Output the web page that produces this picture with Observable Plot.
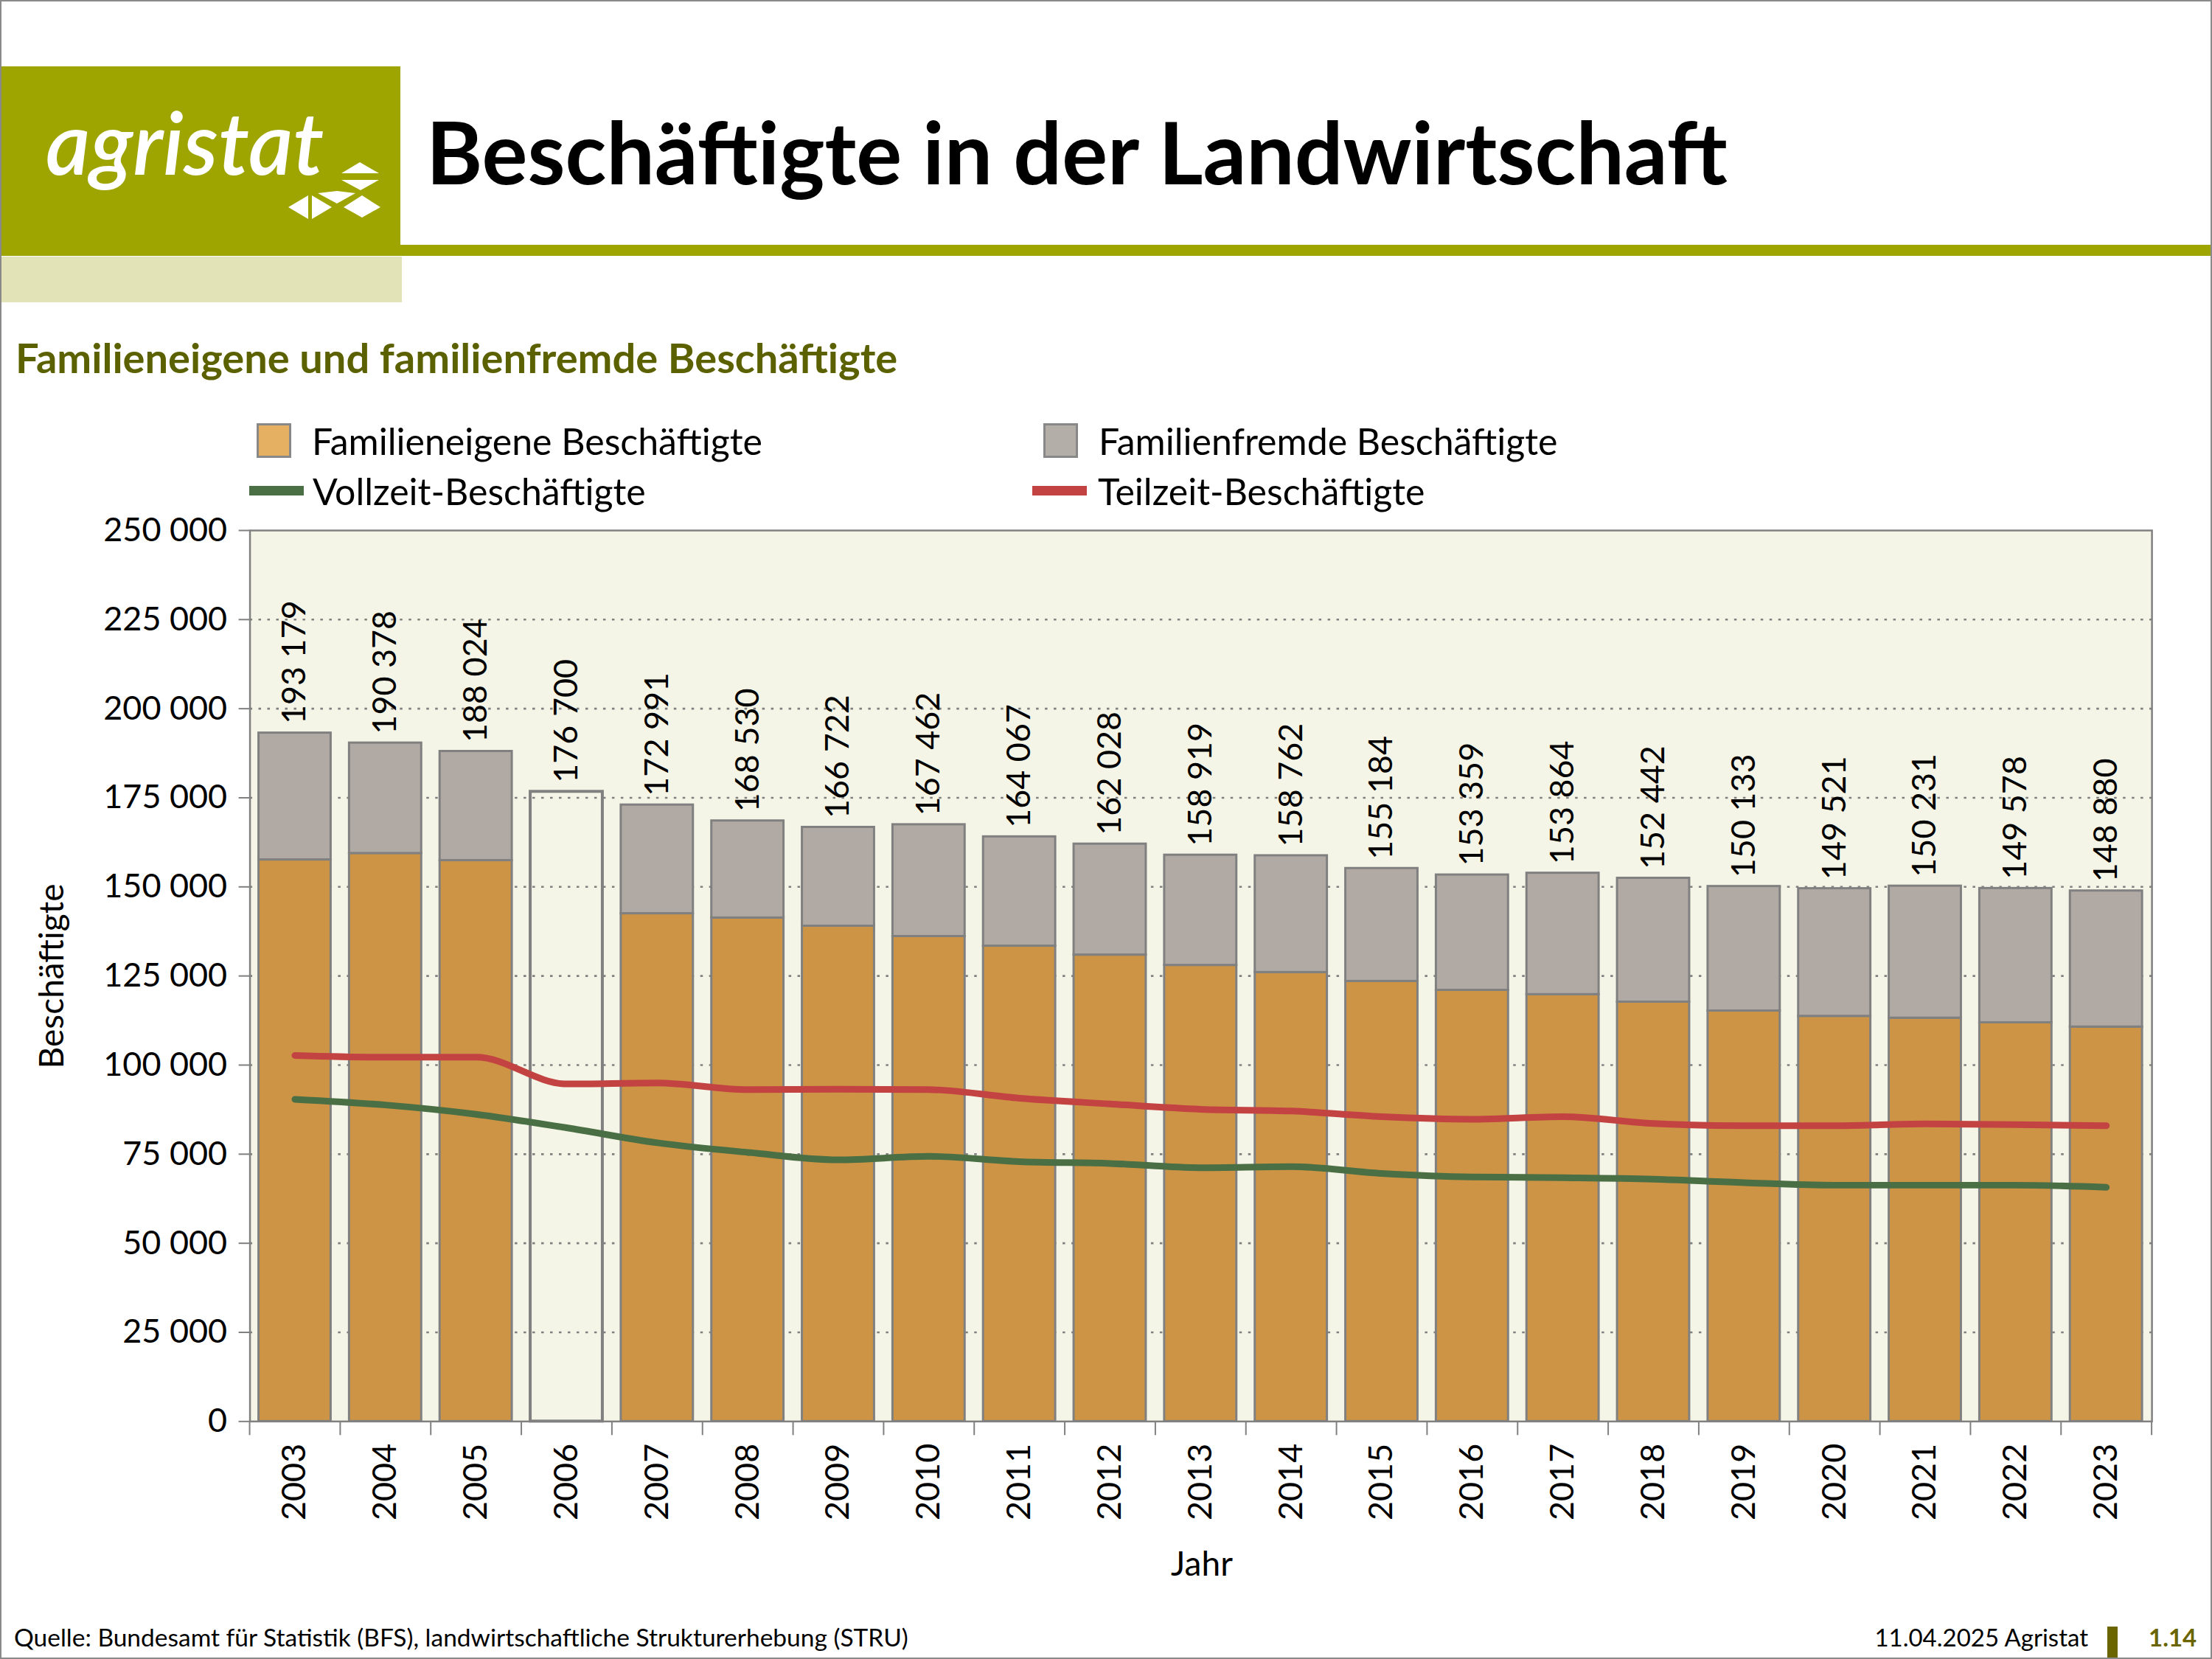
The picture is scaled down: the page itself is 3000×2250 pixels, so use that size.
<!DOCTYPE html>
<html><head><meta charset="utf-8">
<script src="https://cdn.jsdelivr.net/npm/d3@7"></script>
<script src="https://cdn.jsdelivr.net/npm/@observablehq/plot@0.6"></script>
<style>
html,body{margin:0;padding:0;background:#fff;}
#page{position:relative;width:3000px;height:2250px;overflow:hidden;font-family:Lato,"Open Sans",sans-serif;box-sizing:border-box;border:2px solid #8a8a8a;background:#fff;color:#000;}
.abs{position:absolute;white-space:nowrap;line-height:1;}
#logo{position:absolute;left:0;top:88px;width:541px;height:257px;background:#9fa500;}
#band{position:absolute;left:0;top:346px;width:543px;height:62px;background:#e2e4b8;}
#rule{position:absolute;left:541px;top:330px;width:2460px;height:15px;background:#9fa500;}
#logotext{position:absolute;left:60px;top:132px;font-size:117px;font-style:italic;color:#fff;line-height:1;font-family:Lato,sans-serif;font-weight:600;}
#title{left:576px;top:146px;font-size:116px;font-weight:700;}
#subtitle{left:19px;top:455px;font-size:56px;font-weight:700;color:#5c6100;}
.leg{position:absolute;display:flex;align-items:center;height:47px;font-size:50px;white-space:nowrap;}
.sw{width:41px;height:41px;border:3px solid #888;margin-right:28px;}
.ln{width:74px;height:13px;margin-right:12px;}
#chart{position:absolute;left:0;top:690px;}
#ylab{left:67px;top:1322px;font-size:46px;transform:translate(-50%,-50%) rotate(-90deg);}
#xlab{left:1628px;top:2095px;font-size:46px;transform:translateX(-50%);}
#src{left:17px;top:2202px;font-size:33.5px;}
#date{right:166px;top:2202px;font-size:33px;}
#vbar{position:absolute;left:2856px;top:2204px;width:14px;height:46px;background:#6b6500;}
#num{left:2912px;top:2202px;font-size:33px;font-weight:700;color:#6b6500;}
</style></head>
<body>
<div id="page">
  <div id="logo"></div>
  <div id="band"></div>
  <div id="rule"></div>
  <div id="logotext">agristat</div>
  <svg style="position:absolute;left:0;top:0" width="560" height="340">
    <g fill="#fff">
      <polygon points="461,233 486,218 512,233"/>
      <polygon points="461,242 512,242 487,256"/>
      <polygon points="429,260 455,257 480,260 455,274"/>
      <polygon points="389,279 416,263 416,295"/>
      <polygon points="421,263 448,279 421,295"/>
      <polygon points="464,279 489,263 514,279 489,293"/>
    </g>
  </svg>
  <div id="title" class="abs">Beschäftigte in der Landwirtschaft</div>
  <div id="subtitle" class="abs">Familieneigene und familienfremde Beschäftigte</div>

  <div class="leg" style="left:346px;top:572px;"><div class="sw" style="background:#e5b062"></div>Familieneigene Beschäftigte</div>
  <div class="leg" style="left:1413px;top:572px;"><div class="sw" style="background:#b4aea9"></div>Familienfremde Beschäftigte</div>
  <div class="leg" style="left:336px;top:640px;"><div class="ln" style="background:#4b6f44"></div>Vollzeit-Beschäftigte</div>
  <div class="leg" style="left:1398px;top:640px;"><div class="ln" style="background:#c34343;margin-right:15px"></div>Teilzeit-Beschäftigte</div>

  <div id="chart"></div>
  <div id="ylab" class="abs">Beschäftigte</div>
  <div id="xlab" class="abs">Jahr</div>

  <div id="src" class="abs">Quelle: Bundesamt für Statistik (BFS), landwirtschaftliche Strukturerhebung (STRU)</div>
  <div id="date" class="abs">11.04.2025 Agristat</div>
  <div id="vbar"></div>
  <div id="num" class="abs">1.14</div>
</div>
<script>
const years = ["2003","2004","2005","2006","2007","2008","2009","2010","2011","2012","2013","2014","2015","2016","2017","2018","2019","2020","2021","2022","2023"];
const total = [193179,190378,188024,176700,172991,168530,166722,167462,164067,162028,158919,158762,155184,153359,153864,152442,150133,149521,150231,149578,148880];
const familieneigene = [157600,159400,157400,null,142500,141300,139000,136100,133400,130900,128000,126000,123500,121000,119800,117700,115200,113700,113200,111900,110700];
const familienfremde = [35579,30978,30624,null,30491,27230,27722,31362,30667,31128,30919,32762,31684,32359,34064,34742,34933,35821,37031,37678,38180];
const vollzeit = [90400,88800,86200,82400,78200,75500,73400,74400,72900,72400,71200,71500,69600,68600,68400,68000,67000,66300,66300,66300,65700];
const teilzeit = [102700,102200,102200,94700,95000,93100,93200,93100,90700,89100,87600,87100,85500,84800,85500,83600,83000,83000,83500,83300,83000];
const yTicks = [0,25000,50000,75000,100000,125000,150000,175000,200000,225000,250000];
const gridTicks = [25000,50000,75000,100000,125000,150000,175000,200000,225000];

const fmt = v => d3.format(",")(v).replace(/,/g, " ");
const kinds = ["Familieneigene Beschäftigte","Familienfremde Beschäftigte"];
const table = [];
years.forEach((yr, i) => {
  if (familieneigene[i] != null) {
    table.push({year: yr, kind: kinds[0], value: familieneigene[i]});
    table.push({year: yr, kind: kinds[1], value: familienfremde[i]});
  }
});
const hollow = years.map((yr, i) => ({year: yr, total: total[i]})).filter((d, i) => familieneigene[i] == null);
const labels = years.map((yr, i) => ({year: yr, total: total[i]}));
const lines = years.map((yr, i) => ({year: yr, voll: vollzeit[i], teil: teilzeit[i]}));

const W = 3000, ML = 337, MR = 80;
const step = (W - ML - MR) / years.length;

const chart = Plot.plot({
  width: W, height: 1470,
  marginTop: 27, marginBottom: 233, marginLeft: ML, marginRight: MR,
  style: {fontFamily: "Lato, sans-serif", fontSize: "45px", color: "#000", background: "transparent", overflow: "visible"},
  x: {type: "band", domain: years, paddingInner: 0.2, paddingOuter: 0.1, label: null},
  y: {domain: [0, 250000], label: null},
  color: {domain: kinds, range: ["#cd9445", "#b1aaa4"]},
  marks: [
    Plot.frame({fill: "#f4f5e6", stroke: null}),
    Plot.gridY(gridTicks, {stroke: "#808080", strokeOpacity: 1, strokeWidth: 2.6, strokeDasharray: "3.5,8.5"}),
    Plot.barY(table, {x: "year", y: "value", fill: "kind", stroke: "#808080", strokeWidth: 3}),
    Plot.barY(hollow, {x: "year", y: "total", fill: "none", stroke: "#808080", strokeWidth: 4}),
    Plot.lineY(lines, {x: "year", y: "teil", stroke: "#c34343", strokeWidth: 9, curve: "monotone-x", strokeLinecap: "round"}),
    Plot.lineY(lines, {x: "year", y: "voll", stroke: "#4b6f44", strokeWidth: 9, curve: "monotone-x", strokeLinecap: "round"}),
    Plot.text(labels, {x: "year", y: "total", text: d => fmt(d.total), rotate: -90, textAnchor: "start", dy: -12, fontSize: 45, fill: "#000"}),
    Plot.axisY({ticks: yTicks, tickFormat: fmt, tickSize: 15, tickPadding: 16, stroke: "#808080", strokeWidth: 2, label: null, fontSize: 45}),
    Plot.axisX({ticks: years, tickFormat: () => "", tickSize: 19, dx: -step / 2, stroke: "#808080", strokeWidth: 2, label: null}),
    Plot.axisX({ticks: [years[years.length - 1]], tickFormat: () => "", tickSize: 19, dx: step / 2, stroke: "#808080", strokeWidth: 2, label: null}),
    Plot.axisX({ticks: years, tickRotate: -90, tickSize: 0, tickPadding: 30, label: null, fontSize: 45}),
    Plot.frame({stroke: "#808080", strokeWidth: 2.5})
  ]
});
document.getElementById("chart").appendChild(chart);
</script>
</body></html>
